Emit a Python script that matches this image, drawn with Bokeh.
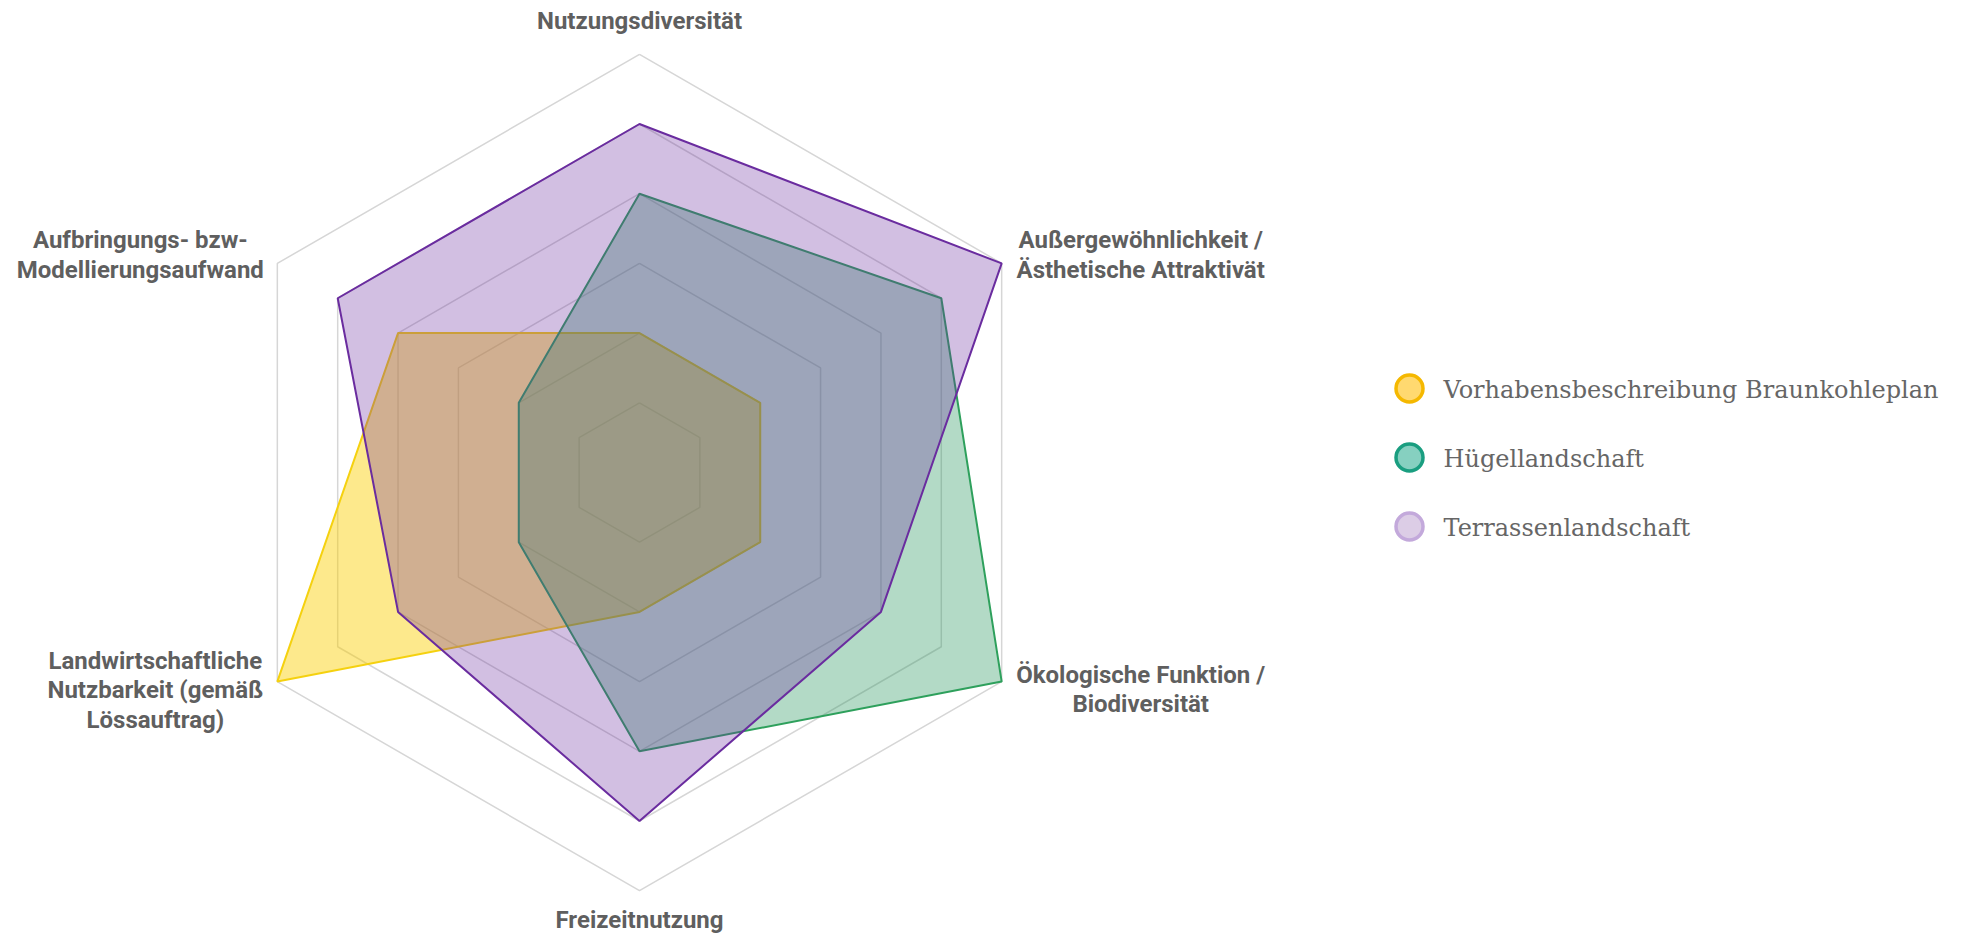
import math
from bokeh.plotting import figure
from bokeh.models import Range1d
from bokeh.core.properties import value
from bokeh.embed import file_html
from bokeh.resources import INLINE

# ---- data ----
axes_labels = [
    ["Nutzungsdiversität"],
    ["Außergewöhnlichkeit /", "Ästhetische Attraktivät"],
    ["Ökologische Funktion /", "Biodiversität"],
    ["Freizeitnutzung"],
    ["Landwirtschaftliche", "Nutzbarkeit (gemäß", "Lössauftrag)"],
    ["Aufbringungs- bzw-", "Modellierungsaufwand"],
]
series_names = ["Vorhabensbeschreibung Braunkohleplan", "Hügellandschaft", "Terrassenlandschaft"]
vorhaben = [2, 2, 2, 2, 6, 4]
huegel = [4, 5, 6, 4, 2, 2]
terrassen = [5, 6, 4, 5, 4, 5]
grid_levels = [1, 2, 3, 4, 5, 6]

# ---- styles ----
line_colors = ["#f5d10f", "#2ea05c", "#6a2c9f"]
fill_colors = ["#facf00", "#26955c", "#6a2c9f"]
fill_alphas = [0.45, 0.35, 0.30]
legend_fill = ["#ffd970", "#86d0c0", "#dccde6"]
legend_line = ["#f5b800", "#1a9e80", "#c3a9db"]

W, H = 1969, 936
cx, cy = 639, 472
U = 69.7

p = figure(width=W, height=H, output_backend="svg", toolbar_location=None,
           x_range=Range1d(-cx / U, (W - cx) / U),
           y_range=Range1d(-(H - cy) / U, cy / U),
           min_border=0, outline_line_color=None, background_fill_color="white")
p.axis.visible = False
p.grid.visible = False

n = len(axes_labels)
angles = [2 * math.pi * i / n for i in range(n)]


def poly(vals):
    xs = [v * math.sin(a) for v, a in zip(vals, angles)]
    ys = [v * math.cos(a) for v, a in zip(vals, angles)]
    return xs, ys


# grid hexagons
for lv in grid_levels:
    xs, ys = poly([lv] * n)
    p.line(xs + [xs[0]], ys + [ys[0]], line_color="#d6d6d6", line_width=1.5)

# series
for vals, lc, fc, fa in zip([vorhaben, huegel, terrassen], line_colors, fill_colors, fill_alphas):
    xs, ys = poly(vals)
    p.patch(xs, ys, fill_color=fc, fill_alpha=fa, line_color=lc, line_width=2)

# axis labels (anchored at outer vertex, pixel offsets)
outer = max(grid_levels)
label_off = [(0, -33), (139, -23), (139, -7), (0, 29), (-122, -21), (-137, -23)]
for lines, a, (dx, dy) in zip(axes_labels, angles, label_off):
    vx, vy = outer * math.sin(a), outer * math.cos(a)
    for k, t in enumerate(lines):
        p.text([vx], [vy], text=[t], x_offset=dx, y_offset=dy + 29.5 * k,
               text_align="center", text_baseline="alphabetic",
               text_font=value("Roboto"), text_font_style="bold",
               text_font_size="24px", text_color="#5f5f5f")

# legend (custom)
lx = (1409 - cx) / U
ly0 = (cy - 388) / U
for i, name in enumerate(series_names):
    yy = ly0 - i * 69 / U
    p.scatter([lx], [yy], marker="circle", size=27, fill_color=legend_fill[i],
              line_color=legend_line[i], line_width=3.5)
    p.text([lx], [yy], text=[name], x_offset=34, y_offset=1,
           text_align="left", text_baseline="middle",
           text_font=value("DejaVu Serif"), text_font_size="24px", text_color="#666666")

open("out.html", "w").write(file_html(p, INLINE))
